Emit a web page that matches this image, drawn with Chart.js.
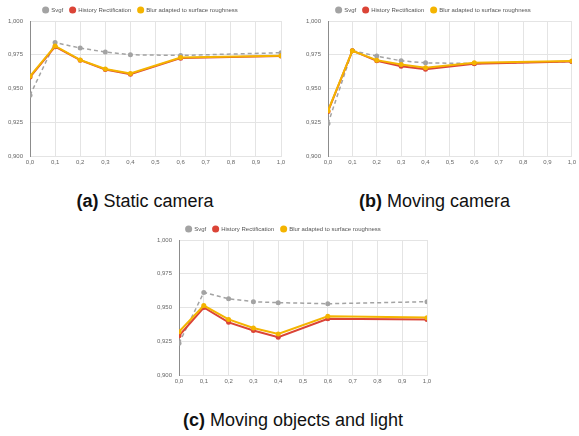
<!DOCTYPE html>
<html>
<head>
<meta charset="utf-8">
<script src="https://cdn.jsdelivr.net/npm/chart.js@4.4.1/dist/chart.umd.min.js"></script>
<style>
  body { margin: 0; width: 579px; height: 436px; background: #fff; position: relative; overflow: hidden;
         font-family: "Liberation Sans", Arial, sans-serif; }
  .box { position: absolute; }
  .cap { position: absolute; font-size: 18px; line-height: 20px; color: #111; text-align: center; white-space: nowrap; }
</style>
</head>
<body>
<div class="box" style="left:0px;top:0px;width:290px;height:175px"><canvas id="chartA"></canvas></div>
<div class="box" style="left:290px;top:0px;width:289px;height:175px"><canvas id="chartB"></canvas></div>
<div class="box" style="left:140px;top:215px;width:300px;height:180px"><canvas id="chartC"></canvas></div>
<div class="cap" style="left:0px;top:191px;width:290px"><b>(a)</b> Static camera</div>
<div class="cap" style="left:290px;top:191px;width:289px"><b>(b)</b> Moving camera</div>
<div class="cap" style="left:143px;top:410px;width:300px"><b>(c)</b> Moving objects and light</div>
<script>
// x positions (blur parameter) and series names
var xValues = [0.0, 0.1, 0.2, 0.3, 0.4, 0.6, 1.0];
var seriesNames = ['Svgf', 'History Rectification', 'Blur adapted to surface roughness'];

// (a) static camera
var staticSvgf    = [0.945, 0.984, 0.980, 0.977, 0.975, 0.9745, 0.9765];
var staticHistory = [0.9585, 0.981, 0.971, 0.964, 0.9605, 0.9725, 0.974];
var staticBlur    = [0.959, 0.9815, 0.9712, 0.9645, 0.9612, 0.973, 0.9743];

// (b) moving camera
var movingSvgf    = [0.924, 0.978, 0.974, 0.9705, 0.969, 0.9685, 0.970];
var movingHistory = [0.933, 0.978, 0.9705, 0.9665, 0.9642, 0.9684, 0.970];
var movingBlur    = [0.9335, 0.978, 0.971, 0.9677, 0.9654, 0.969, 0.9703];

// (c) moving objects and light
var objectsSvgf    = [0.9235, 0.9612, 0.9565, 0.9543, 0.9536, 0.9528, 0.9543];
var objectsHistory = [0.929, 0.950, 0.939, 0.933, 0.928, 0.9417, 0.9412];
var objectsBlur    = [0.932, 0.9514, 0.9412, 0.9348, 0.9304, 0.9435, 0.9425];

var gray = '#a3a3a3', red = '#db4437', yellow = '#f4b400';

function toPoints(vals) {
  return xValues.map(function(x, i) { return {x: x, y: vals[i]}; });
}

function comma(v, digits) {
  return v.toFixed(digits).replace('.', ',');
}

// force a fixed legend height so the plot lines up with the reference
var legendHeightPlugin = {
  id: 'legendHeight',
  beforeLayout: function(chart) {
    var lg = chart.legend;
    if (lg && !lg._patched) {
      var fit = lg.fit;
      lg.fit = function() {
        fit.call(this);
        this.height = chart.options.legendH;
        if (this._minSize) this._minSize.height = this.height;
      };
      lg._patched = true;
    }
  }
};

function makeChart(id, svgf, hist, blur, lay) {
  return new Chart(id, {
    type: 'line',
    data: {
      datasets: [
        {
          label: seriesNames[0], data: toPoints(svgf), order: 3,
          borderColor: gray, backgroundColor: gray, borderWidth: 1.5, borderDash: [4, 3],
          pointRadius: 2.5, pointBorderWidth: 0, tension: 0
        },
        {
          label: seriesNames[1], data: toPoints(hist), order: 2,
          borderColor: red, backgroundColor: red, borderWidth: 2,
          pointRadius: 2.5, pointBorderWidth: 0, tension: 0
        },
        {
          label: seriesNames[2], data: toPoints(blur), order: 1,
          borderColor: yellow, backgroundColor: yellow, borderWidth: 2,
          pointRadius: 2.5, pointBorderWidth: 0, tension: 0
        }
      ]
    },
    plugins: [legendHeightPlugin],
    options: {
      legendH: lay.legendH,
      responsive: true,
      maintainAspectRatio: false,
      animation: false,
      layout: { padding: { top: lay.top, right: lay.right, left: 0, bottom: 0 } },
      plugins: {
        tooltip: { enabled: false },
        legend: {
          position: 'top',
          labels: {
            usePointStyle: true, pointStyle: 'circle', boxWidth: 5, boxHeight: 5,
            padding: 7, color: '#555',
            font: { family: 'Liberation Sans', size: 6 },
            sort: function(a, b) { return a.datasetIndex - b.datasetIndex; }
          }
        }
      },
      scales: {
        x: {
          type: 'linear', min: 0, max: 1,
          afterFit: function(s) { s.height = lay.bottom; },
          ticks: {
            stepSize: 0.1, padding: 3, color: '#666', maxRotation: 0,
            font: { family: 'Liberation Sans', size: 6 },
            callback: function(v) { return comma(v, 1); }
          },
          grid: { color: '#e4e4e4', drawTicks: false },
          border: { color: '#e4e4e4' }
        },
        y: {
          min: 0.9, max: 1.0,
          afterFit: function(s) { s.width = lay.left; },
          ticks: {
            stepSize: 0.025, padding: 7, color: '#666',
            font: { family: 'Liberation Sans', size: 6 },
            callback: function(v) { return comma(v, 3); }
          },
          grid: { color: '#e4e4e4', drawTicks: false },
          border: { color: '#8c8c8c', width: 1 }
        }
      }
    }
  });
}

makeChart('chartA', staticSvgf, staticHistory, staticBlur, {legendH: 21, top: 0, right: 9, left: 30, bottom: 19});
makeChart('chartB', movingSvgf, movingHistory, movingBlur, {legendH: 21, top: 0, right: 2, left: 38, bottom: 19});
makeChart('chartC', objectsSvgf, objectsHistory, objectsBlur, {legendH: 21, top: 4, right: 13, left: 39, bottom: 20});
</script>
</body>
</html>
